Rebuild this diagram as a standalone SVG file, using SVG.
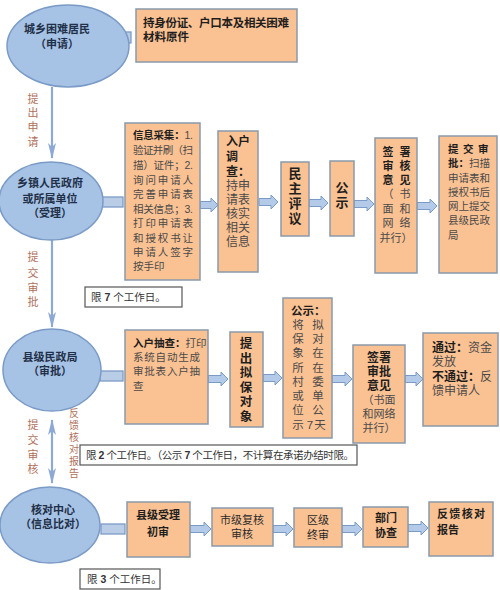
<svg xmlns="http://www.w3.org/2000/svg" width="500" height="590" viewBox="0 0 500 590">
<defs>
<style>
text{font-family:"Liberation Sans","Noto Sans CJK SC",sans-serif;}
.ell{fill:#a6c2e5;stroke:#7b9bc7;stroke-width:1.5;}
.stub{fill:#b9cde6;stroke:#7b9bc7;stroke-width:1.3;}
.box{fill:#fac192;stroke:#8b99aa;stroke-width:1.5;}
.note{fill:#ffffff;stroke:#555555;stroke-width:1.2;}
.barr{fill:#b3cbe8;stroke:#7b9bc7;stroke-width:1;}
.line{stroke:#8eaad4;stroke-width:2.2;fill:none;}
.et{font-size:11px;font-weight:bold;fill:#1f3048;text-anchor:middle;}
.vl{font-size:11px;fill:#b0705a;text-anchor:middle;}
.b{font-weight:bold;fill:#1e1e1e;}
.n{font-weight:normal;fill:#4a4a4a;}
.t105{font-size:10.5px;}
.t11{font-size:11px;}
.t115{font-size:11.5px;}
.t12{font-size:12px;}
.t13{font-size:13px;}
.mid{text-anchor:middle;}
.nt{font-size:10.5px;fill:#333333;}
</style>
<marker id="ah" viewBox="0 0 16 8" refX="15" refY="4" markerWidth="16" markerHeight="8" markerUnits="userSpaceOnUse" orient="auto-start-reverse">
<path d="M0,0 L16,4 L0,8 L4,4 Z" fill="#8eaad4"/>
</marker>
</defs>

<g id="connectors">
<path class="line" d="M52,87 V158" marker-end="url(#ah)"/>
<path class="line" d="M52,240 V327" marker-end="url(#ah)"/>
<path class="line" d="M52,420 V483" marker-start="url(#ah)" marker-end="url(#ah)"/>
<rect class="stub" x="108" y="32" width="23" height="11"/>
<rect class="stub" x="100" y="197" width="23" height="10"/>
<rect class="stub" x="100" y="371" width="23" height="10"/>
<rect class="stub" x="101" y="524" width="24" height="10"/>
<path class="barr" d="M200,201.5 H211 V198 L218,205 L211,212 V208.5 H200 Z"/>
<path class="barr" d="M259,198.5 H271 V195 L278,202 L271,209 V205.5 H259 Z"/>
<path class="barr" d="M309,199.5 H321 V196 L328,203 L321,210 V206.5 H309 Z"/>
<path class="barr" d="M354,200.5 H367 V197 L374,204 L367,211 V207.5 H354 Z"/>
<path class="barr" d="M417,202.5 H430 V199 L437,206 L430,213 V209.5 H417 Z"/>
<path class="barr" d="M208,375.5 H221 V372 L228,379 L221,386 V382.5 H208 Z"/>
<path class="barr" d="M263,374.5 H275 V371 L282,378 L275,385 V381.5 H263 Z"/>
<path class="barr" d="M332,375.5 H345 V372 L352,379 L345,386 V382.5 H332 Z"/>
<path class="barr" d="M405,375.5 H416 V372 L423,379 L416,386 V382.5 H405 Z"/>
<path class="barr" d="M190,525.5 H204 V522 L211,529 L204,536 V532.5 H190 Z"/>
<path class="barr" d="M273,525.5 H286 V522 L293,529 L286,536 V532.5 H273 Z"/>
<path class="barr" d="M342,525.5 H355 V522 L362,529 L355,536 V532.5 H342 Z"/>
<path class="barr" d="M408,524.5 H421 V521 L428,528 L421,535 V531.5 H408 Z"/>
<text class="vl"><tspan x="33" y="103">提</tspan><tspan x="33" y="117">出</tspan><tspan x="33" y="131">申</tspan><tspan x="33" y="146">请</tspan></text>
<text class="vl"><tspan x="33" y="261">提</tspan><tspan x="33" y="277">交</tspan><tspan x="33" y="292">审</tspan><tspan x="33" y="306">批</tspan></text>
<text class="vl"><tspan x="33" y="429">提</tspan><tspan x="33" y="444">交</tspan><tspan x="33" y="459">审</tspan><tspan x="33" y="473">核</tspan></text>
<text class="vl" style="font-size:10px"><tspan x="74" y="417">反</tspan><tspan x="74" y="429">馈</tspan><tspan x="74" y="441">核</tspan><tspan x="74" y="453">对</tspan><tspan x="74" y="465">报</tspan><tspan x="74" y="477">告</tspan></text>
</g>

<g id="n-resident">
<ellipse class="ell" cx="68" cy="46" rx="61" ry="41"/>
<text class="et"><tspan x="57" y="33">城乡困难居民</tspan><tspan x="57" y="48">（申请）</tspan></text>
</g>
<g id="n-materials">
<rect class="box" x="136" y="9" width="161" height="53"/>
<text class="b" style="font-size:11.5px"><tspan x="143" y="27" textLength="146" lengthAdjust="spacing">持身份证、户口本及相关困难</tspan><tspan x="143" y="41">材料原件</tspan></text>
</g>

<g id="n-town">
<ellipse class="ell" cx="51" cy="201" rx="52" ry="39"/>
<text class="et"><tspan x="50" y="187">乡镇人民政府</tspan><tspan x="50" y="203">或所属单位</tspan><tspan x="50" y="217">（受理）</tspan></text>
</g>
<g id="n-collect">
<rect class="box" x="125" y="123" width="75" height="157"/>
<text class="t105 n"><tspan x="133" y="139" textLength="60" lengthAdjust="spacing"><tspan class="b">信息采集：</tspan>1.</tspan><tspan x="133" y="154" textLength="60" lengthAdjust="spacing">验证并刷（扫</tspan><tspan x="133" y="169" textLength="60" lengthAdjust="spacing">描）证件；2.</tspan><tspan x="133" y="184" textLength="60" lengthAdjust="spacing">询问申请人</tspan><tspan x="133" y="198" textLength="60" lengthAdjust="spacing">完善申请表</tspan><tspan x="133" y="213" textLength="60" lengthAdjust="spacing">相关信息；3.</tspan><tspan x="133" y="227" textLength="60" lengthAdjust="spacing">打印申请表</tspan><tspan x="133" y="242" textLength="60" lengthAdjust="spacing">和授权书让</tspan><tspan x="133" y="256" textLength="60" lengthAdjust="spacing">申请人签字</tspan><tspan x="133" y="270">按手印</tspan></text>
</g>
<g id="n-survey">
<rect class="box" x="218" y="131" width="40" height="141"/>
<text class="t12 n"><tspan class="b" x="226" y="146" textLength="24" lengthAdjust="spacing">入户</tspan><tspan class="b" x="226" y="161">调</tspan><tspan class="b" x="226" y="176">查：</tspan><tspan x="226" y="190" textLength="24" lengthAdjust="spacing">持申</tspan><tspan x="226" y="204" textLength="24" lengthAdjust="spacing">请表</tspan><tspan x="226" y="218" textLength="24" lengthAdjust="spacing">核实</tspan><tspan x="226" y="232" textLength="24" lengthAdjust="spacing">相关</tspan><tspan x="226" y="246" textLength="24" lengthAdjust="spacing">信息</tspan></text>
</g>
<g id="n-discuss">
<rect class="box" x="281" y="162" width="28" height="74"/>
<text class="t13 b mid"><tspan x="295" y="178">民</tspan><tspan x="295" y="193">主</tspan><tspan x="295" y="208">评</tspan><tspan x="295" y="223">议</tspan></text>
</g>
<g id="n-publicity1">
<rect class="box" x="330" y="161" width="24" height="75"/>
<text class="t13 b mid"><tspan x="342" y="192">公</tspan><tspan x="342" y="207">示</tspan></text>
</g>
<g id="n-sign1">
<rect class="box" x="375" y="138" width="42" height="135"/>
<text class="t11 n mid"><tspan class="b" x="388 405" y="156">签署</tspan><tspan class="b" x="388 405" y="170">审核</tspan><tspan class="b" x="388 405" y="184">意见</tspan><tspan x="388 405" y="198">（书</tspan><tspan x="388 405" y="213">面和</tspan><tspan x="388 405" y="227">网络</tspan><tspan x="396" y="242">并行）</tspan></text>
</g>
<g id="n-submit">
<rect class="box" x="439" y="136" width="58" height="137"/>
<text class="t105 n"><tspan class="b" x="448 463 478" y="153">提交审</tspan><tspan class="b" x="448" y="167">批：</tspan><tspan>扫描</tspan><tspan x="448" y="182">申请表和</tspan><tspan x="448" y="196">授权书后</tspan><tspan x="448" y="210">网上提交</tspan><tspan x="448" y="224">县级民政</tspan><tspan x="448" y="239">局</tspan></text>
</g>
<g id="n-limit7">
<rect class="note" x="85" y="287" width="97" height="20"/>
<text class="nt" x="91" y="301">限 <tspan font-weight="bold">7</tspan> 个工作日。</text>
</g>

<g id="n-county">
<ellipse class="ell" cx="52" cy="370" rx="49" ry="41"/>
<text class="et"><tspan x="50" y="361">县级民政局</tspan><tspan x="50" y="375">（审批）</tspan></text>
</g>
<g id="n-check">
<rect class="box" x="125" y="330" width="83" height="94"/>
<text class="t105 n"><tspan class="b" x="133" y="347">入户抽查：</tspan><tspan>打印</tspan><tspan x="133" y="361" textLength="67" lengthAdjust="spacing">系统自动生成</tspan><tspan x="133" y="375" textLength="67" lengthAdjust="spacing">审批表入户抽</tspan><tspan x="133" y="390">查</tspan></text>
</g>
<g id="n-propose">
<rect class="box" x="230" y="332" width="33" height="95"/>
<text class="t12 b mid" style="font-size:12.5px"><tspan x="246" y="348">提</tspan><tspan x="246" y="362.6">出</tspan><tspan x="246" y="377.2">拟</tspan><tspan x="246" y="391.8">保</tspan><tspan x="246" y="406.4">对</tspan><tspan x="246" y="421">象</tspan></text>
</g>
<g id="n-publicity2">
<rect class="box" x="283" y="298" width="49" height="140"/>
<text class="t115 n"><tspan class="b" x="291" y="315">公示：</tspan><tspan class="mid" x="298 318" y="329">将拟</tspan><tspan class="mid" x="298 318" y="343">保对</tspan><tspan class="mid" x="298 318" y="357">象在</tspan><tspan class="mid" x="298 318" y="372">所在</tspan><tspan class="mid" x="298 318" y="386">村委</tspan><tspan class="mid" x="298 318" y="400">或单</tspan><tspan class="mid" x="298 318" y="414">位公</tspan><tspan class="mid" x="298 310 320" y="429">示7天</tspan></text>
</g>
<g id="n-sign2">
<rect class="box" x="353" y="345" width="52" height="98"/>
<text class="n mid"><tspan class="t12 b" x="379" y="362">签署</tspan><tspan class="t12 b" x="379" y="376">审批</tspan><tspan class="t12 b" x="379" y="390">意见</tspan><tspan class="t11" x="379" y="404">（书面</tspan><tspan class="t11" x="379" y="418">和网络</tspan><tspan class="t11" x="379" y="432">并行）</tspan></text>
</g>
<g id="n-result">
<rect class="box" x="423" y="333" width="75" height="93"/>
<text class="t12 n"><tspan x="432" y="352" textLength="60" lengthAdjust="spacing"><tspan class="b">通过：</tspan>资金</tspan><tspan x="432" y="366">发放</tspan><tspan x="432" y="381" textLength="60" lengthAdjust="spacing"><tspan class="b">不通过：</tspan>反</tspan><tspan x="432" y="395">馈申请人</tspan></text>
</g>
<g id="n-limit2">
<rect class="note" x="80" y="445" width="277" height="20"/>
<text class="nt" x="86" y="459" textLength="268" lengthAdjust="spacing">限 <tspan font-weight="bold">2</tspan> 个工作日。（公示 <tspan font-weight="bold">7</tspan> 个工作日，不计算在承诺办结时限。</text>
</g>

<g id="n-center">
<ellipse class="ell" cx="50" cy="525" rx="50" ry="38"/>
<text class="et"><tspan x="53" y="514">核对中心</tspan><tspan x="53" y="528">（信息比对）</tspan></text>
</g>
<g id="n-county-accept">
<rect class="box" x="127" y="502" width="63" height="55"/>
<text class="t11 b mid"><tspan x="158" y="519">县级受理</tspan><tspan x="158" y="536">初审</tspan></text>
</g>
<g id="n-city">
<rect class="box" x="212" y="508" width="61" height="38"/>
<text class="t11 mid" style="fill:#2a2a2a"><tspan x="242" y="524">市级复核</tspan><tspan x="242" y="538">审核</tspan></text>
</g>
<g id="n-district">
<rect class="box" x="294" y="508" width="48" height="39"/>
<text class="t11 mid" style="fill:#2a2a2a"><tspan x="318" y="524">区级</tspan><tspan x="318" y="539">终审</tspan></text>
</g>
<g id="n-dept">
<rect class="box" x="363" y="507" width="45" height="40"/>
<text class="t11 b mid"><tspan x="386" y="522">部门</tspan><tspan x="386" y="537">协查</tspan></text>
</g>
<g id="n-feedback">
<rect class="box" x="429" y="502" width="64" height="54"/>
<text class="t11 b"><tspan x="437" y="518" textLength="48" lengthAdjust="spacing">反馈核对</tspan><tspan x="437" y="534">报告</tspan></text>
</g>
<g id="n-limit3">
<rect class="note" x="80" y="569" width="80" height="20"/>
<text class="nt" x="87" y="583">限 <tspan font-weight="bold">3</tspan> 个工作日。</text>
</g>
</svg>
